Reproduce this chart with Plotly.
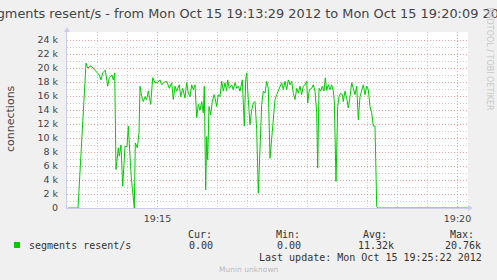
import plotly.graph_objects as go
import pandas as pd

# seconds relative to 19:15:00 and values (segments resent per second)
t_sec = [-89.5, -79.5, -71.5, -69.8, -66.5, -63.2, -58.2, -56.5, -54.8, -52.2,
         -49.8, -48.2, -45.5, -44.2, -42.8, -41.5, -39.2, -38.2, -36.5, -34.8,
         -32.5, -30.5, -29.2, -27.5, -26.2, -23.2, -22.2, -20.2, -18.5, -17.5,
         -15.8, -14.2, -12.5, -10.8, -9.2, -6.8, -4.8, -2.5, -0.2, 2.5,
         4.2, 5.8, 9.2, 11.8, 14.2, 15.8, 17.5, 19.2, 21.8, 23.2,
         25.2, 27.5, 29.2, 30.8, 32.5, 34.2, 35.8, 37.5, 39.2, 40.8,
         42.5, 44.2, 45.8, 46.8, 48.2, 49.2, 50.2, 51.5, 53.2, 54.8,
         56.5, 57.5, 59.2, 60.8, 62.5, 64.2, 65.8, 67.5, 69.2, 70.2,
         71.8, 74.2, 75.8, 77.5, 79.2, 80.8, 82.5, 84.8, 85.8, 86.8,
         88.2, 89.2, 90.8, 92.5, 94.2, 95.8, 97.5, 99.2, 100.8, 102.5,
         104.2, 105.8, 107.5, 109.2, 110.8, 112.5, 114.2, 115.8, 117.5, 119.2,
         120.8, 122.5, 124.2, 125.8, 127.5, 129.2, 130.8, 132.5, 134.2, 135.8,
         137.5, 139.2, 140.8, 142.5, 144.2, 145.8, 147.5, 149.2, 150.2, 151.8,
         154.2, 155.8, 157.5, 159.2, 160.2, 161.5, 163.2, 164.8, 166.5, 167.8,
         169.2, 170.8, 172.5, 174.2, 175.8, 176.8, 178.5, 180.2, 181.5, 183.2,
         184.8, 185.8, 187.5, 189.2, 190.8, 192.5, 194.2, 195.8, 197.5, 199.2,
         200.8, 202.5, 204.2, 205.8, 207.5, 209.2, 210.8, 212.5, 214.2, 215.8,
         217.5, 219.2, 220.8, 310.5]
values = [0, 0, 20700, 20000, 20300, 19800, 19000, 18300, 19300, 19700,
          17400, 18600, 19000, 18300, 19300, 5500, 8600, 7400, 9000, 3100,
          8800, 8800, 11700, 7400, 4300, 0, 9300, 8600, 10700, 17400,
          15900, 15200, 15900, 15500, 16700, 14800, 18600, 17900, 17900, 18300,
          17600, 17900, 18100, 17100, 17900, 15500, 17400, 16700, 17600, 15900,
          17100, 15700, 17900, 16400, 15900, 17600, 16900, 17600, 12900, 14800,
          14000, 15200, 13600, 17400, 2600, 10200, 6900, 14500, 13300, 15200,
          16200, 15700, 14500, 16200, 15900, 18100, 16700, 17900, 16700, 18300,
          17100, 17600, 16900, 17900, 17100, 17400, 16700, 18300, 15500, 11700,
          18300, 19300, 15500, 11900, 14000, 15000, 15200, 11200, 2100, 7400,
          14800, 16700, 16400, 18100, 17100, 7100, 9800, 12900, 15500, 16200,
          16700, 17400, 17900, 16900, 18100, 16900, 18300, 17600, 18100, 16400,
          15500, 17100, 16400, 17400, 16200, 17400, 17600, 18100, 15000, 16900,
          17100, 17600, 16700, 13600, 5700, 17100, 16700, 17400, 16700, 18600,
          16800, 17600, 16900, 17600, 16700, 15200, 3800, 14500, 15900, 16400,
          16200, 15200, 16700, 15700, 14300, 15900, 17900, 17100, 16200, 17400,
          12600, 15900, 16900, 17600, 16200, 17400, 16900, 14500, 13600, 11700,
          11700, 200, 0, 0]
assert len(t_sec) == len(values)

y_ticks = [0, 2000, 4000, 6000, 8000, 10000, 12000, 14000, 16000, 18000, 20000, 22000, 24000]
y_tick_text = ["0", "2 k", "4 k", "6 k", "8 k", "10 k", "12 k", "14 k", "16 k", "18 k", "20 k", "22 k", "24 k"]

title_text = "segments resent/s - from Mon Oct 15 19:13:29 2012 to Mon Oct 15 19:20:09 2012"
y_title = "connections"
legend_label = "segments resent/s"
stat_names = ["Cur:", "Min:", "Avg:", "Max:"]
stat_values = ["0.00", "0.00", "11.32k", "20.76k"]
last_update = "Last update: Mon Oct 15 19:25:22 2012"
footer = "Munin unknown"
watermark = "RRDTOOL / TOBI OETIKER"

base = pd.Timestamp("2012-10-15 19:15:00")
times = [base + pd.to_timedelta(s, unit="s") for s in t_sec]

# plot area in pixels
L, R, T, B = 67, 468, 32, 208


def px(x):
    return (x - L) / (R - L)


def py(y):
    return (B - y) / (B - T)


fig = go.Figure()
fig.add_trace(go.Scatter(x=times, y=values, mode="lines",
                         line=dict(color="#00cc00", width=1), showlegend=False, hoverinfo="skip"))

x0 = base + pd.to_timedelta(-90.5, unit="s")
x1 = base + pd.to_timedelta(310.5, unit="s")

fig.update_layout(
    width=497, height=280,
    margin=dict(l=L, r=497 - R, t=T, b=280 - B),
    paper_bgcolor="#f0f0f0", plot_bgcolor="#ffffff",
    font=dict(family="DejaVu Sans", color="#333333"),
    xaxis=dict(range=[x0, x1], type="date", dtick=300000, tickformat="%H:%M",
               showgrid=True, gridcolor="#eaa0a0", griddash="1px,2px", gridwidth=1,
               minor=dict(dtick=30000, showgrid=True, gridcolor="#cccccc", griddash="1px,2px"),
               showline=True, linecolor="#ccccee", linewidth=1, zeroline=False,
               ticks="", tickfont=dict(size=9.5, color="#444444"), ticklabelstandoff=2),
    yaxis=dict(range=[0, 25143], tickvals=y_ticks, ticktext=y_tick_text,
               showgrid=True, gridcolor="#eaa0a0", griddash="1px,2px", gridwidth=1,
               minor=dict(dtick=1000, showgrid=True, gridcolor="#cccccc", griddash="1px,2px"),
               showline=True, linecolor="#ccccee", linewidth=1, zeroline=False,
               ticks="", tickfont=dict(size=9.5, color="#444444"), ticklabelstandoff=6),
)

mono = "DejaVu Sans Mono"
ann = []
ann.append(dict(text=title_text, x=px(248.5), y=py(13), xref="paper", yref="paper",
                xanchor="center", yanchor="middle", showarrow=False,
                font=dict(size=12.9, color="#444444")))
ann.append(dict(text=watermark, x=px(489), y=py(5), xref="paper", yref="paper",
                xanchor="center", yanchor="top", textangle=90, showarrow=False,
                font=dict(size=8, color="#c8c8c8")))
ann.append(dict(text=y_title, x=px(11), y=py(119), xref="paper", yref="paper",
                xanchor="center", yanchor="middle", textangle=-90, showarrow=False,
                font=dict(size=11, color="#444444")))
ann.append(dict(text=legend_label, x=px(27), y=py(245), xref="paper", yref="paper",
                xanchor="left", yanchor="middle", showarrow=False, font=dict(family=mono, size=10, color="#333333")))
name_x = [186, 274, 361, 448]
val_right = [215, 303, 396, 483]
for nm, vx, vl, vr in zip(stat_names, name_x, stat_values, val_right):
    ann.append(dict(text=nm, x=px(vx), y=py(234), xref="paper", yref="paper",
                    xanchor="left", yanchor="middle", showarrow=False, font=dict(family=mono, size=10, color="#333333")))
    ann.append(dict(text=vl, x=px(vr), y=py(245), xref="paper", yref="paper",
                    xanchor="right", yanchor="middle", showarrow=False, font=dict(family=mono, size=10, color="#333333")))
ann.append(dict(text=last_update, x=px(484), y=py(257), xref="paper", yref="paper",
                xanchor="right", yanchor="middle", showarrow=False, font=dict(family=mono, size=10, color="#333333")))
ann.append(dict(text=footer, x=px(248.5), y=py(269), xref="paper", yref="paper",
                xanchor="center", yanchor="middle", showarrow=False, font=dict(size=7.5, color="#bbbbbb")))
fig.update_layout(annotations=ann)

shapes = []
shapes.append(dict(type="rect", xref="paper", yref="paper", x0=px(14), x1=px(20),
                   y0=py(248), y1=py(242), fillcolor="#00cc00", line=dict(width=0)))
shapes.append(dict(type="path", xref="paper", yref="paper", xsizemode="pixel", ysizemode="pixel",
                   xanchor=1, yanchor=0, path="M 0,-3 L 5,0 L 0,3 Z",
                   fillcolor="#ccccee", line=dict(width=0)))
shapes.append(dict(type="path", xref="paper", yref="paper", xsizemode="pixel", ysizemode="pixel",
                   xanchor=0, yanchor=1, path="M -3,0 L 0,5 L 3,0 Z",
                   fillcolor="#ccccee", line=dict(width=0)))
fig.update_layout(shapes=shapes)

fig.write_html("out.html")
